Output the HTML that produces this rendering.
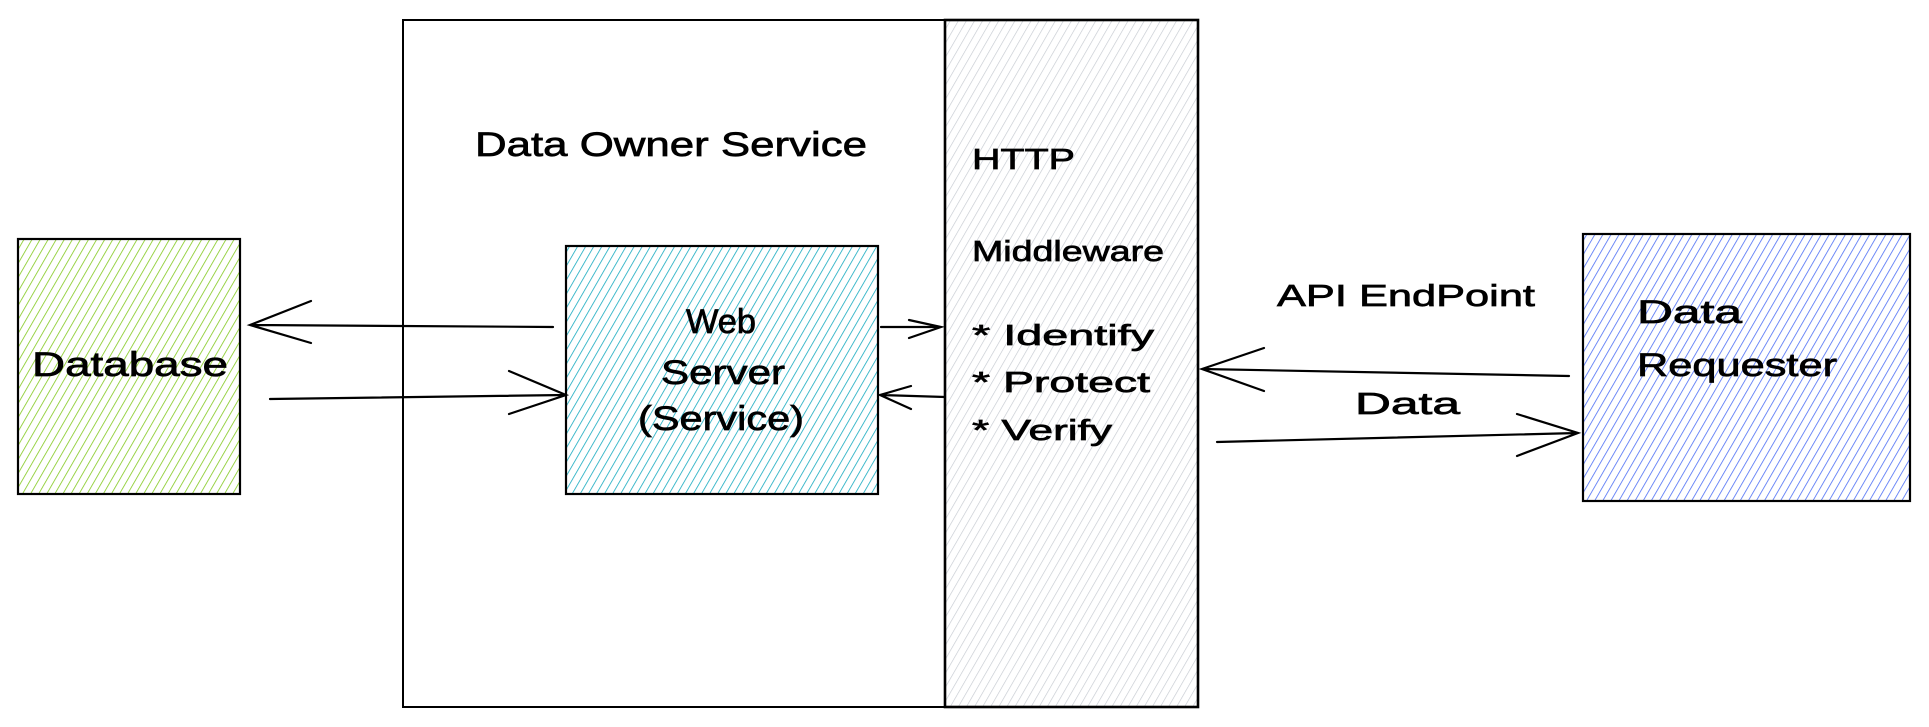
<!DOCTYPE html>
<html><head><meta charset="utf-8"><style>html,body{margin:0;padding:0;background:#fff}svg{display:block}</style></head>
<body>
<svg width="1929" height="727" viewBox="0 0 1929 727" xmlns="http://www.w3.org/2000/svg">
<defs>
<pattern id="hg" patternUnits="userSpaceOnUse" width="7" height="7" patternTransform="rotate(30)"><line x1="0" y1="0" x2="0" y2="7" stroke="#82c91e" stroke-width="1.6"/></pattern>
<pattern id="hc" patternUnits="userSpaceOnUse" width="7" height="7" patternTransform="rotate(30)"><line x1="0" y1="0" x2="0" y2="7" stroke="#15aabf" stroke-width="1.6"/></pattern>
<pattern id="hb" patternUnits="userSpaceOnUse" width="7" height="7" patternTransform="rotate(30)"><line x1="0" y1="0" x2="0" y2="7" stroke="#4c6ef5" stroke-width="1.6"/></pattern>
<pattern id="hgr" patternUnits="userSpaceOnUse" width="7" height="7" patternTransform="rotate(30)"><line x1="0" y1="0" x2="0" y2="7" stroke="#c4c9d0" stroke-width="1.3"/></pattern>
</defs>
<g fill="none" stroke="#000" stroke-width="2.2" stroke-linecap="round">
<rect x="403" y="20" width="542" height="687" stroke-width="2"/>
<rect x="945" y="20" width="253" height="687" fill="url(#hgr)" stroke-width="2.6"/>
<rect x="18" y="239" width="222" height="255" fill="url(#hg)"/>
<rect x="566" y="246" width="312" height="248" fill="url(#hc)"/>
<rect x="1583" y="234" width="327" height="267" fill="url(#hb)"/>
<path d="M553 327 L250 325 M311 301 L250 325 L311 343"/>
<path d="M270 399 L566 395 M509 371 L566 395 L509 414"/>
<path d="M881 327 L941 327 M909 320 L941 327 L909 338"/>
<path d="M945 397 L880 395 M911 386 L880 395 L911 409"/>
<path d="M1569 376 L1202 369 M1264 348 L1202 369 L1264 391"/>
<path d="M1217 442 L1578 433 M1517 414 L1578 433 L1517 456"/>
</g>
<g font-family="'Liberation Sans', sans-serif" fill="#000" stroke="#000" stroke-width="0.7">
<text x="475" y="156" font-size="34" textLength="392" lengthAdjust="spacingAndGlyphs">Data Owner Service</text>
<text x="32" y="376" font-size="34" textLength="196" lengthAdjust="spacingAndGlyphs">Database</text>
<text x="686" y="333" font-size="34" textLength="70" lengthAdjust="spacingAndGlyphs">Web</text>
<text x="661" y="384" font-size="34" textLength="124" lengthAdjust="spacingAndGlyphs">Server</text>
<text x="638" y="430" font-size="34" textLength="166" lengthAdjust="spacingAndGlyphs">(Service)</text>
<text x="972" y="169" font-size="29" textLength="103" lengthAdjust="spacingAndGlyphs">HTTP</text>
<text x="972" y="261" font-size="29" textLength="192" lengthAdjust="spacingAndGlyphs">Middleware</text>
<text x="972" y="345" font-size="29" textLength="182" lengthAdjust="spacingAndGlyphs">* Identify</text>
<text x="972" y="392" font-size="29" textLength="178" lengthAdjust="spacingAndGlyphs">* Protect</text>
<text x="972" y="440" font-size="29" textLength="140" lengthAdjust="spacingAndGlyphs">* Verify</text>
<text x="1277" y="306" font-size="31" textLength="258" lengthAdjust="spacingAndGlyphs">API EndPoint</text>
<text x="1355" y="414" font-size="31" textLength="105" lengthAdjust="spacingAndGlyphs">Data</text>
<text x="1637" y="323" font-size="32" textLength="105" lengthAdjust="spacingAndGlyphs">Data</text>
<text x="1637" y="376" font-size="32" textLength="200" lengthAdjust="spacingAndGlyphs">Requester</text>
</g>
</svg>
</body></html>
